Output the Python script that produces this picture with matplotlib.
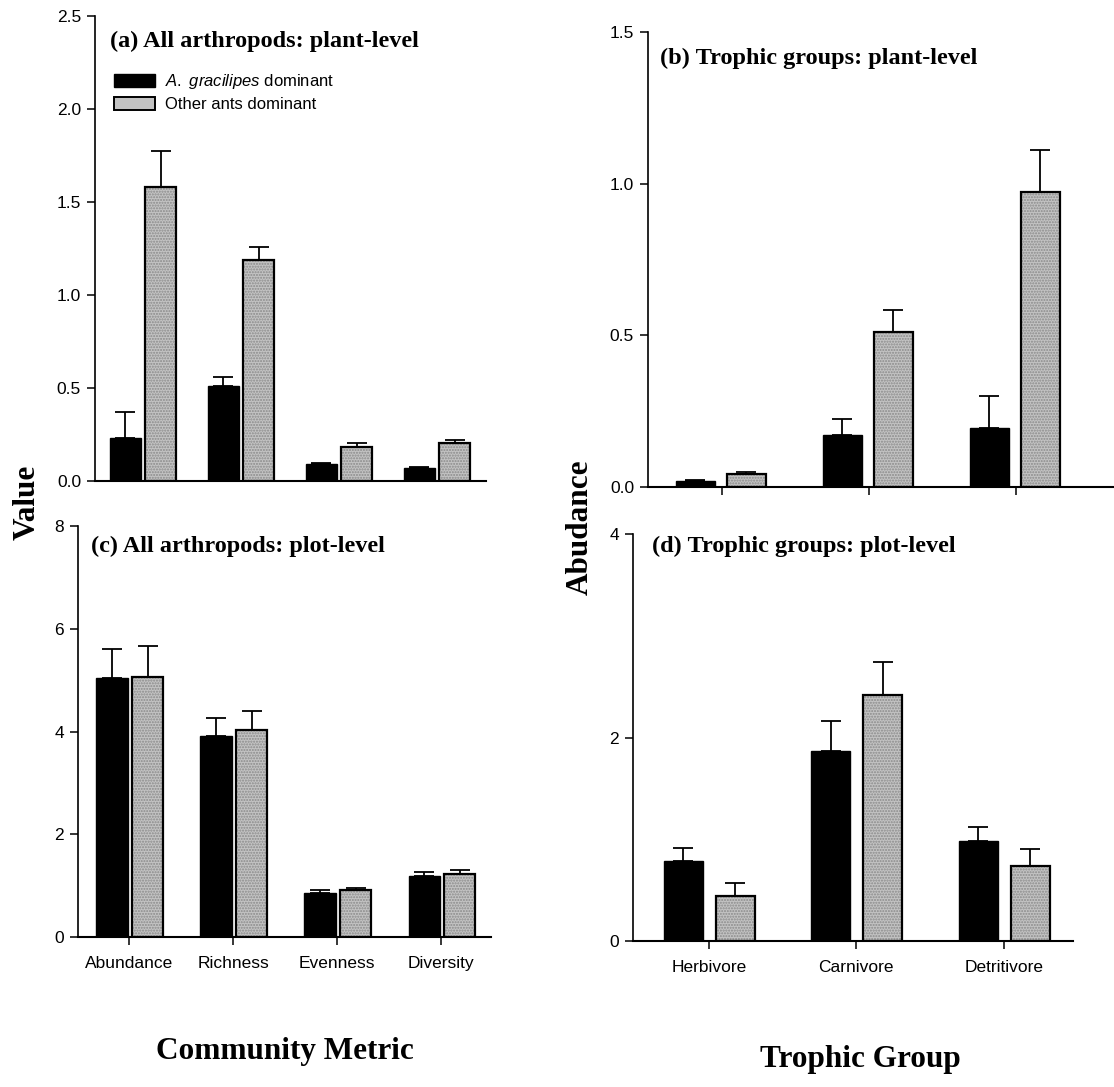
import matplotlib
matplotlib.use("Agg")
import matplotlib.pyplot as plt
from matplotlib.patches import Patch
import numpy as np

W, H = 1114, 1087

metrics = ["Abundance", "Richness", "Evenness", "Diversity"]
groups = ["Herbivore", "Carnivore", "Detritivore"]

# (a) all arthropods, plant-level: means and upper SE
a_grac = [0.233, 0.511, 0.091, 0.068]
a_grac_se = [0.136, 0.046, 0.005, 0.005]
a_other = [1.582, 1.190, 0.184, 0.203]
a_other_se = [0.190, 0.068, 0.019, 0.017]

# (b) trophic groups, plant-level
b_grac = [0.019, 0.170, 0.194]
b_grac_se = [0.004, 0.053, 0.107]
b_other = [0.044, 0.510, 0.971]
b_other_se = [0.006, 0.072, 0.139]

# (c) all arthropods, plot-level
c_grac = [5.05, 3.92, 0.86, 1.18]
c_grac_se = [0.56, 0.35, 0.06, 0.08]
c_other = [5.07, 4.03, 0.91, 1.22]
c_other_se = [0.60, 0.37, 0.04, 0.09]

# (d) trophic groups, plot-level
d_grac = [0.79, 1.87, 0.98]
d_grac_se = [0.12, 0.29, 0.14]
d_other = [0.44, 2.42, 0.74]
d_other_se = [0.13, 0.32, 0.16]

series_names = ["$\\mathit{A.\\ gracilipes}$ dominant", "Other ants dominant"]

GRAY = "#c3c3c3"
SERIF = "Liberation Serif"
SANS = "Liberation Sans"

plt.rcParams["mathtext.fontset"] = "custom"
plt.rcParams["mathtext.it"] = "Liberation Sans:italic"
plt.rcParams["mathtext.rm"] = "Liberation Sans"


def fig_box(left, top, right, bottom):
    # pixel box -> figure fraction rect
    return [left / W, 1 - bottom / H, (right - left) / W, (bottom - top) / H]


def draw_panel(ax, cats, g, gse, o, ose, off_g, off_o, width, xlim, ylim, yticks, yfmt, xticks=True, labels=True):
    x = np.arange(len(cats))
    ax.bar(x + off_g, g, width, color="black", edgecolor="black", linewidth=1.0, zorder=2)
    ax.errorbar(x + off_g, g, yerr=[np.zeros(len(g)), gse], fmt="none",
                ecolor="black", elinewidth=1.3, capsize=7, capthick=1.3, zorder=3)
    # stippled gray fill, then a black outline on top
    ax.bar(x + off_o, o, width, color=GRAY, edgecolor="#8a8a8a", linewidth=0,
           hatch="......", zorder=2)
    ax.bar(x + off_o, o, width, facecolor="none", edgecolor="black", linewidth=1.6, zorder=2.5)
    ax.errorbar(x + off_o, o, yerr=[np.zeros(len(o)), ose], fmt="none",
                ecolor="black", elinewidth=1.3, capsize=7, capthick=1.3, zorder=3)
    ax.set_xlim(*xlim)
    ax.set_ylim(*ylim)
    ax.set_yticks(yticks)
    ax.set_yticklabels([yfmt.format(t) for t in yticks], fontfamily=SANS, fontsize=12.5)
    for s in ("top", "right"):
        ax.spines[s].set_visible(False)
    ax.spines["left"].set_linewidth(1.2)
    ax.spines["bottom"].set_linewidth(1.5)
    ax.tick_params(axis="y", direction="out", length=6, width=1.1, pad=4)
    if xticks:
        ax.set_xticks(x)
        ax.tick_params(axis="x", direction="out", length=6, width=1.1, pad=8)
        if labels:
            ax.set_xticklabels(cats, fontfamily=SANS, fontsize=12.5)
        else:
            ax.set_xticklabels([])
    else:
        ax.set_xticks([])


fig = plt.figure(figsize=(W / 100, H / 100), dpi=100)

ax_a = fig.add_axes(fig_box(95, 16, 486, 481))
draw_panel(ax_a, metrics, a_grac, a_grac_se, a_other, a_other_se,
           -0.18, 0.18, 0.31, (-0.49, 3.5), (0, 2.5),
           [0.0, 0.5, 1.0, 1.5, 2.0, 2.5], "{:.1f}", xticks=False)

ax_b = fig.add_axes(fig_box(648, 32, 1114, 487))
draw_panel(ax_b, groups, b_grac, b_grac_se, b_other, b_other_se,
           -0.18, 0.17, 0.265, (-0.50, 2.67), (0, 1.5),
           [0.0, 0.5, 1.0, 1.5], "{:.1f}", labels=False)

ax_c = fig.add_axes(fig_box(78, 526, 491, 937))
draw_panel(ax_c, metrics, c_grac, c_grac_se, c_other, c_other_se,
           -0.163, 0.18, 0.30, (-0.49, 3.48), (0, 8),
           [0, 2, 4, 6, 8], "{:d}")

ax_d = fig.add_axes(fig_box(633, 534, 1073, 941))
draw_panel(ax_d, groups, d_grac, d_grac_se, d_other, d_other_se,
           -0.173, 0.18, 0.264, (-0.515, 2.47), (0, 4),
           [0, 2, 4], "{:d}")

# panel titles
title_kw = dict(fontfamily=SERIF, fontweight="bold", fontsize=17.5, va="center", ha="left")
fig.text(110 / W, 1 - 41 / H, "(a) All arthropods: plant-level", **title_kw)
fig.text(660 / W, 1 - 58 / H, "(b) Trophic groups: plant-level", **title_kw)
fig.text(91 / W, 1 - 546 / H, "(c) All arthropods: plot-level", **title_kw)
fig.text(652 / W, 1 - 546 / H, "(d) Trophic groups: plot-level", **title_kw)

# axis labels
lab_kw = dict(fontfamily=SERIF, fontweight="bold", fontsize=22.5, ha="center", va="center")
fig.text(27 / W, 1 - 502 / H, "Value", rotation=90, **lab_kw)
fig.text(580 / W, 1 - 527 / H, "Abudance", rotation=90, **lab_kw)
fig.text(285 / W, 1 - 1052 / H, "Community Metric", **lab_kw)
fig.text(860 / W, 1 - 1060 / H, "Trophic Group", **lab_kw)

handles = [
    Patch(facecolor="black", edgecolor="black", linewidth=1.0),
    Patch(facecolor=GRAY, edgecolor="black", linewidth=1.4),
]
leg = ax_a.legend(handles, series_names,
                  loc="upper left", bbox_to_anchor=(114 / W, 1 - 72 / H),
                  bbox_transform=fig.transFigure, frameon=False,
                  prop={"family": SANS, "size": 12},
                  handlelength=2.45, handleheight=0.8, handletextpad=0.6,
                  labelspacing=0.35, borderpad=0, borderaxespad=0)

fig.savefig("out.png", dpi=100)
